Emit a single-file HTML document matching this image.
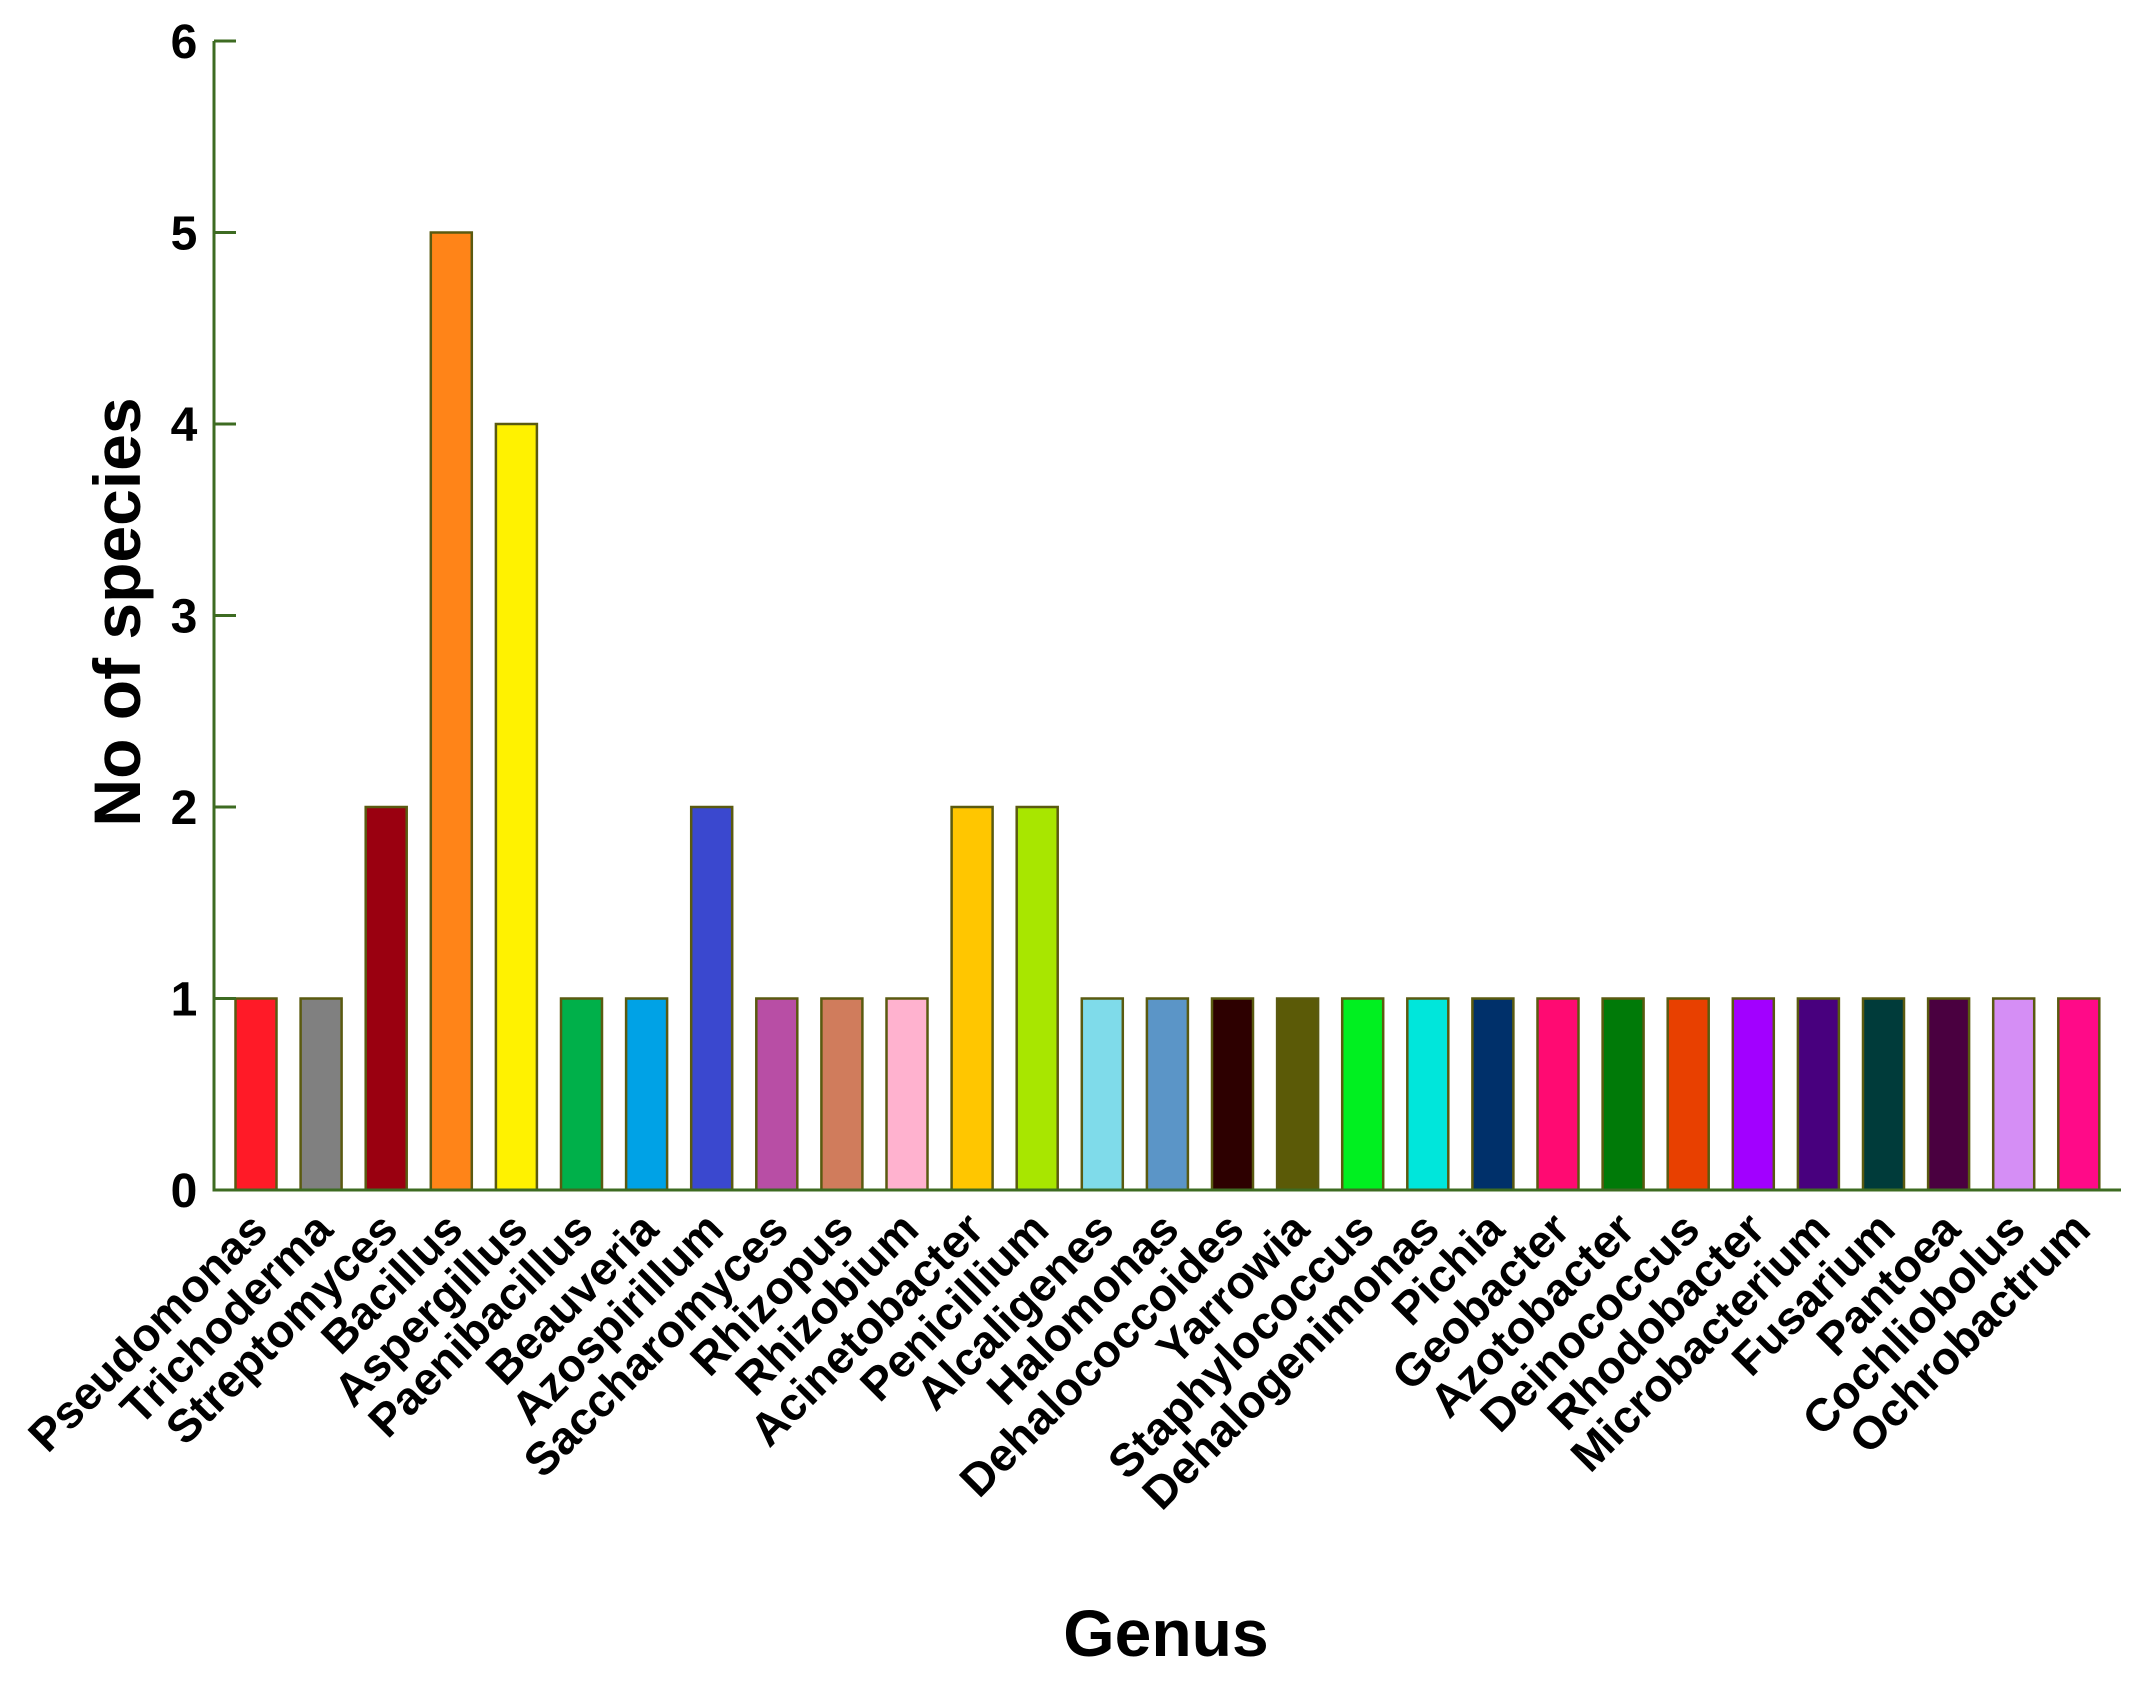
<!DOCTYPE html>
<html><head><meta charset="utf-8"><style>
html,body{margin:0;padding:0;background:#fff;}
svg text{font-family:"Liberation Sans",Arial,sans-serif;font-weight:bold;fill:#000;}
</style></head><body>
<svg id="chart" width="2139" height="1694" viewBox="0 0 2139 1694" xmlns="http://www.w3.org/2000/svg">
<rect x="0" y="0" width="2139" height="1694" fill="#fff"/>
<g id="bars"></g>
<g id="axes"></g>
<text x="0" y="0" font-size="66" text-anchor="middle" transform="translate(140,612) rotate(-90)">No of species</text>
<text x="1166" y="1656" font-size="66" text-anchor="middle">Genus</text>
</svg>
<script>
const categories = ["Pseudomonas","Trichoderma","Streptomyces","Bacillus","Aspergillus","Paenibacillus","Beauveria","Azospirillum","Saccharomyces","Rhizopus","Rhizobium","Acinetobacter","Penicillium","Alcaligenes","Halomonas","Dehalococcoides","Yarrowia","Staphylococcus","Dehalogenimonas","Pichia","Geobacter","Azotobacter","Deinococcus","Rhodobacter","Microbacterium","Fusarium","Pantoea","Cochliobolus","Ochrobactrum"];
const values = [1,1,2,5,4,1,1,2,1,1,1,2,2,1,1,1,1,1,1,1,1,1,1,1,1,1,1,1,1];
const colors = ["#ff1a27","#808080","#9a0010","#ff8418","#fff200","#00b04a","#00a2e6","#3a48cf","#b84ea5","#d07c5c","#ffb2cf","#ffc600","#a8e600","#7fdbea","#5b95c7","#2d0000","#5b5a07","#00f020","#00e6db","#00306a","#ff0a72","#007a08","#e84000","#a200ff","#48007e","#003b3a","#4a0040","#d58ef5","#ff0a88"];
const yTicks = [0,1,2,3,4,5,6];

const NS = "http://www.w3.org/2000/svg";
const X0 = 214, X1 = 2121, Y0 = 1190, Y6 = 41;
const firstC = 256, pitch = 65.1, bw = 41;
function yScale(v){ return Y0 - (v/6)*(Y0-Y6); }
function xScale(i){ return firstC + i*pitch; }
const bars = document.getElementById('bars');
const axes = document.getElementById('axes');
categories.forEach((c,i)=>{
  const r = document.createElementNS(NS,'rect');
  const y = yScale(values[i]);
  r.setAttribute('x', xScale(i)-bw/2);
  r.setAttribute('y', y);
  r.setAttribute('width', bw);
  r.setAttribute('height', Y0-y);
  r.setAttribute('fill', colors[i]);
  r.setAttribute('stroke', '#5a5a10');
  r.setAttribute('stroke-width', '2.5');
  
  
  bars.appendChild(r);
  const t = document.createElementNS(NS,'text');
  const tx = xScale(i)+14, ty = 1232;
  t.setAttribute('x', tx);
  t.setAttribute('y', ty);
  t.setAttribute('font-size', '46');
  t.setAttribute('text-anchor', 'end');
  t.setAttribute('transform', 'rotate(-45 '+tx+' '+ty+')');
  t.textContent = c;
  
  
  axes.appendChild(t);
});
const ax = document.createElementNS(NS,'path');
ax.setAttribute('d', 'M'+X0+' '+Y6+' L'+X0+' '+Y0+' L'+X1+' '+Y0);
ax.setAttribute('fill','none');
ax.setAttribute('stroke','#3d6b22');
ax.setAttribute('stroke-width','3');


axes.appendChild(ax);
yTicks.forEach(v=>{
  const y = yScale(v);
  const l = document.createElementNS(NS,'line');
  l.setAttribute('x1', X0); l.setAttribute('x2', X0+22);
  l.setAttribute('y1', y); l.setAttribute('y2', y);
  l.setAttribute('stroke','#3d6b22'); l.setAttribute('stroke-width','3');
  
  
  axes.appendChild(l);
  const t = document.createElementNS(NS,'text');
  t.setAttribute('x', 184); t.setAttribute('y', y+17);
  t.setAttribute('font-size', '48');
  t.setAttribute('text-anchor', 'middle');
  t.textContent = v;
  
  
  axes.appendChild(t);
});
</script>
</body></html>
